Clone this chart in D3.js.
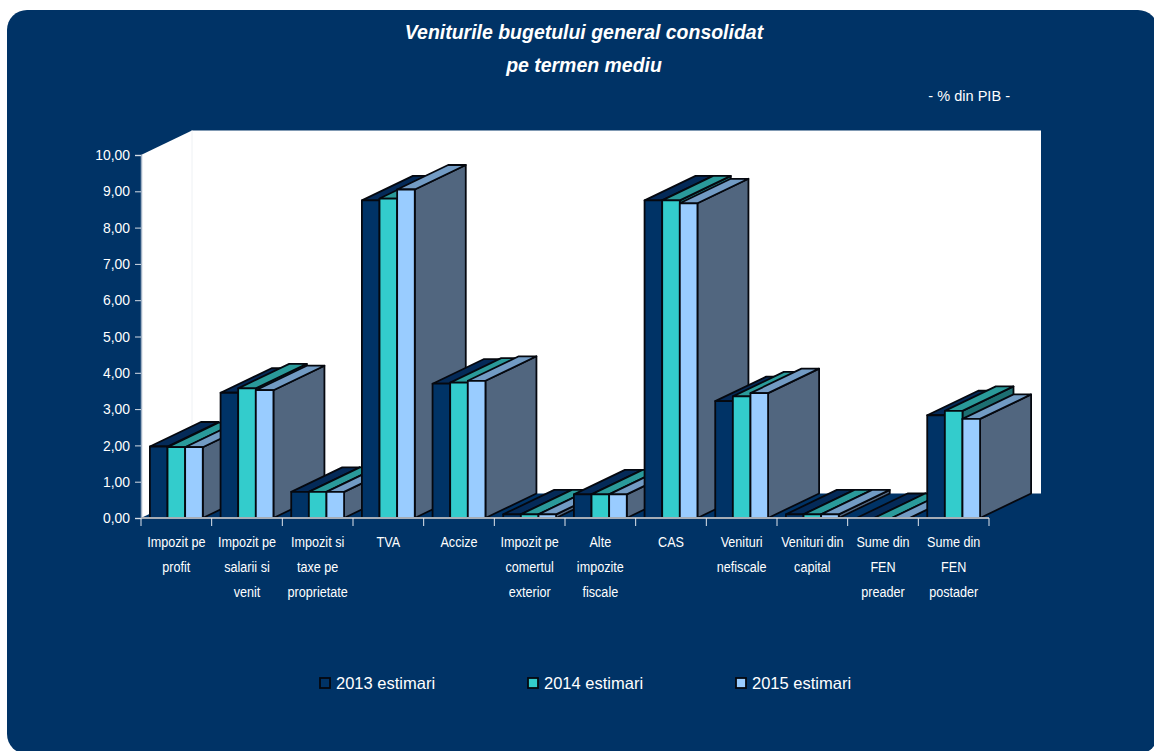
<!DOCTYPE html>
<html>
<head>
<meta charset="utf-8">
<script src="https://cdn.jsdelivr.net/npm/d3@7"></script>
<style>
  html, body { margin: 0; padding: 0; background: #fff; overflow: hidden; }
  text { font-family: "Liberation Sans", Arial, sans-serif; fill: #fff; }
</style>
</head>
<body>
<div id="chart"></div>
<script>
// Data
const categories = [
  ["Impozit pe", "profit"],
  ["Impozit pe", "salarii si", "venit"],
  ["Impozit si", "taxe pe", "proprietate"],
  ["TVA"],
  ["Accize"],
  ["Impozit pe", "comertul", "exterior"],
  ["Alte", "impozite", "fiscale"],
  ["CAS"],
  ["Venituri", "nefiscale"],
  ["Venituri din", "capital"],
  ["Sume din", "FEN", "preader"],
  ["Sume din", "FEN", "postader"]
];
const values2013 = [1.97, 3.45, 0.72, 8.75, 3.70, 0.10, 0.65, 8.75, 3.22, 0.10, 0.00, 2.83];
const values2014 = [1.95, 3.57, 0.72, 8.80, 3.73, 0.10, 0.65, 8.75, 3.35, 0.10, 0.00, 2.95];
const values2015 = [1.95, 3.52, 0.72, 9.05, 3.78, 0.10, 0.65, 8.67, 3.44, 0.10, 0.00, 2.73];
const seriesNames = ["2013 estimari", "2014 estimari", "2015 estimari"];
const yTicks = [0, 1, 2, 3, 4, 5, 6, 7, 8, 9, 10];

const width = 1154, height = 751;
const bg = "#003366";

// Plot box of the front plane, and the 3D depth offset
const plotLeft = 141, plotRight = 989, plotBottom = 518, plotTop = 155;
const depthX = 51, depthY = 24.5;

// front, top, side colours per series
const faces = [
  { front: "#003366", top: "#042a58", side: "#02234a" },
  { front: "#33cccc", top: "#2a9a9a", side: "#1d6f72" },
  { front: "#99ccff", top: "#729bc4", side: "#51667f" }
];

const svg = d3.select("#chart").append("svg")
    .attr("width", width)
    .attr("height", height)
    .style("display", "block");

// The original text is slightly condensed, so squeeze it horizontally
function squeeze(sel, factor) {
  sel.each(function() {
    this.setAttribute("textLength", this.getComputedTextLength() * factor);
    this.setAttribute("lengthAdjust", "spacingAndGlyphs");
  });
}

// Rounded card
svg.append("rect")
    .attr("x", 7).attr("y", 10)
    .attr("width", 1151).attr("height", 744)
    .attr("rx", 20)
    .attr("fill", bg);

// Scales
const x = d3.scaleBand().domain(d3.range(categories.length)).range([plotLeft, plotRight]).paddingInner(0);
const inner = d3.scaleBand().domain([0, 1, 2]).range([8.9, x.bandwidth() - 8.9]);
const y = d3.scaleLinear().domain([0, 10]).range([plotBottom, plotTop]);

const poly = pts => pts.map(p => p.join(",")).join(" ");

// Walls
svg.append("polygon")
    .attr("points", poly([[plotLeft + depthX, plotTop - depthY], [1041, plotTop - depthY], [1041, plotBottom - depthY], [plotLeft + depthX, plotBottom - depthY]]))
    .attr("fill", "#fff");
svg.append("polygon")
    .attr("points", poly([[plotLeft, plotTop], [plotLeft + depthX, plotTop - depthY], [plotLeft + depthX, plotBottom - depthY], [plotLeft, plotBottom]]))
    .attr("fill", "#fff");
svg.append("line")
    .attr("x1", plotLeft + depthX).attr("x2", plotLeft + depthX)
    .attr("y1", plotTop - depthY).attr("y2", plotBottom - depthY)
    .attr("stroke", "#eef1f4");

// Bars, painted left to right so nearer groups cover the side walls
const allValues = [values2013, values2014, values2015];
const bars = svg.append("g");
categories.forEach((c, i) => {
  allValues.forEach((vals, s) => {
    const x0 = x(i) + inner(s), x1 = x0 + inner.bandwidth();
    const y0 = y(vals[i]), yb = y(0);
    const f = faces[s];
    const g = bars.append("g")
        .attr("stroke", "#05080f")
        .attr("stroke-width", 1.8)
        .attr("stroke-linejoin", "round");
    g.append("polygon")
        .attr("points", poly([[x1, y0], [x1 + depthX, y0 - depthY], [x1 + depthX, yb - depthY], [x1, yb]]))
        .attr("fill", f.side);
    g.append("polygon")
        .attr("points", poly([[x0, y0], [x0 + depthX, y0 - depthY], [x1 + depthX, y0 - depthY], [x1, y0]]))
        .attr("fill", f.top);
    g.append("rect")
        .attr("x", x0).attr("y", y0)
        .attr("width", x1 - x0).attr("height", yb - y0)
        .attr("fill", f.front);
  });
});

// Y axis
const yAxis = svg.append("g")
    .attr("transform", `translate(${plotLeft},0)`)
    .call(d3.axisLeft(y).tickValues(yTicks).tickSize(6).tickPadding(5)
        .tickFormat(d => d3.format(".2f")(d).replace(".", ",")));
yAxis.selectAll("text").style("font-size", "14.5px").call(squeeze, 0.96);
yAxis.selectAll("line").attr("stroke", "#d5dde6");
yAxis.select(".domain").attr("stroke", "#9fb0c4").attr("stroke-width", 1.5);

// X axis line and ticks at the band edges
const xAxis = svg.append("g")
    .attr("transform", `translate(0,${plotBottom})`);
xAxis.append("line")
    .attr("x1", plotLeft).attr("x2", plotRight)
    .attr("stroke", "#a6adb6").attr("stroke-width", 2);
xAxis.selectAll(".tick")
    .data(d3.range(categories.length + 1))
    .enter().append("line")
    .attr("class", "tick")
    .attr("x1", d => plotLeft + d * x.bandwidth())
    .attr("x2", d => plotLeft + d * x.bandwidth())
    .attr("y1", 0).attr("y2", 8)
    .attr("stroke", "#dfe5ec");

// Category labels
categories.forEach((lines, i) => {
  lines.forEach((l, k) => {
    svg.append("text")
        .attr("class", "cat")
        .attr("text-anchor", "middle")
        .attr("x", x(i) + x.bandwidth() / 2)
        .attr("y", 547 + k * 25)
        .style("font-size", "14px")
        .text(l);
  });
});
svg.selectAll(".cat").call(squeeze, 0.9);

// Title
svg.append("text")
    .attr("class", "title")
    .attr("x", 584).attr("y", 39)
    .attr("text-anchor", "middle")
    .style("font-size", "20px").style("font-weight", "bold").style("font-style", "italic")
    .text("Veniturile bugetului general consolidat");
svg.append("text")
    .attr("class", "title")
    .attr("x", 584).attr("y", 72)
    .attr("text-anchor", "middle")
    .style("font-size", "20px").style("font-weight", "bold").style("font-style", "italic")
    .text("pe termen mediu");
svg.selectAll(".title").call(squeeze, 0.973);
svg.append("text")
    .attr("x", 1010).attr("y", 101)
    .attr("text-anchor", "end")
    .style("font-size", "15px")
    .text("- % din PIB -")
    .call(squeeze, 0.97);

// Legend
const legendX = d3.scaleOrdinal().domain(seriesNames).range([320, 528, 736]);
const legend = svg.selectAll(".legend")
    .data(seriesNames)
    .enter().append("g")
    .attr("class", "legend")
    .attr("transform", d => `translate(${legendX(d)},678)`);
legend.append("rect")
    .attr("width", 10).attr("height", 10)
    .attr("fill", (d, i) => faces[i].front)
    .attr("stroke", "#05080f")
    .attr("stroke-width", 1.8);
legend.append("text")
    .attr("x", 16).attr("y", 11)
    .style("font-size", "16.5px")
    .text(d => d);
</script>
</body>
</html>
